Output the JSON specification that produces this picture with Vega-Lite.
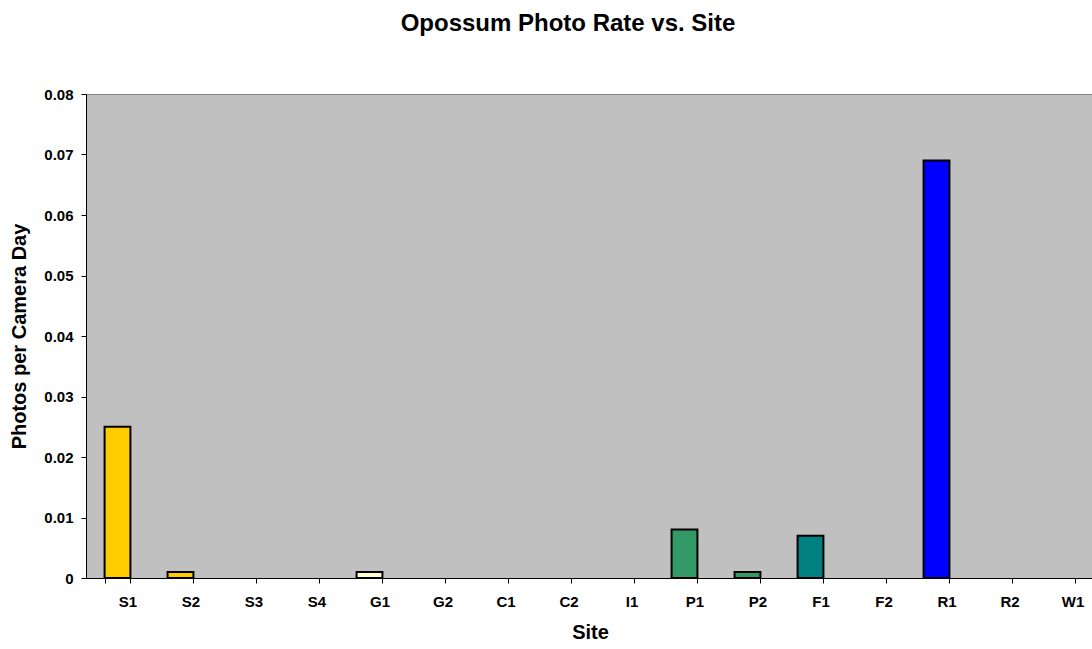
{
  "$schema": "https://vega.github.io/schema/vega-lite/v6.json",
  "width": 1008,
  "height": 484,
  "padding": {"left": 9, "top": 12, "right": 0, "bottom": 0},
  "background": "white",
  "title": {
    "text": "Opossum Photo Rate vs. Site",
    "font": "Liberation Sans",
    "fontSize": 24,
    "fontWeight": "bold",
    "color": "black",
    "anchor": "middle",
    "frame": "group",
    "dx": -22,
    "offset": 51
  },
  "config": {
    "view": {"fill": "#C0C0C0", "stroke": "#808080", "strokeWidth": 1},
    "axis": {
      "labelFont": "Liberation Sans",
      "labelFontSize": 15,
      "labelFontWeight": "bold",
      "labelColor": "black",
      "titleFont": "Liberation Sans",
      "titleFontSize": 20,
      "titleFontWeight": "bold",
      "titleColor": "black",
      "domainColor": "black",
      "tickColor": "black",
      "tickSize": 5,
      "grid": false
    }
  },
  "data": {
    "values": [
      {"site": "S1", "rate": 0.025},
      {"site": "S2", "rate": 0.001},
      {"site": "S3", "rate": 0},
      {"site": "S4", "rate": 0},
      {"site": "G1", "rate": 0.001},
      {"site": "G2", "rate": 0},
      {"site": "C1", "rate": 0},
      {"site": "C2", "rate": 0},
      {"site": "I1", "rate": 0},
      {"site": "P1", "rate": 0.008},
      {"site": "P2", "rate": 0.001},
      {"site": "F1", "rate": 0.007},
      {"site": "F2", "rate": 0},
      {"site": "R1", "rate": 0.069},
      {"site": "R2", "rate": 0},
      {"site": "W1", "rate": 0}
    ]
  },
  "mark": {"type": "bar", "stroke": "black", "strokeWidth": 2},
  "encoding": {
    "x": {
      "field": "site",
      "type": "nominal",
      "sort": null,
      "scale": {"paddingInner": 0.59, "paddingOuter": 0.295},
      "axis": {
        "title": "Site",
        "labelAngle": 0,
        "tickBand": "extent",
        "labelOffset": 10,
        "labelPadding": 11,
        "titlePadding": 13
      }
    },
    "y": {
      "field": "rate",
      "type": "quantitative",
      "scale": {"domain": [0, 0.08], "nice": false},
      "axis": {
        "title": "Photos per Camera Day",
        "values": [0, 0.01, 0.02, 0.03, 0.04, 0.05, 0.06, 0.07, 0.08],
        "format": "~g",
        "labelPadding": 8,
        "titlePadding": 14
      }
    },
    "strokeOpacity": {
      "condition": {"test": "datum.rate > 0", "value": 1},
      "value": 0
    },
    "color": {
      "field": "site",
      "type": "nominal",
      "legend": null,
      "scale": {
        "domain": ["S1","S2","S3","S4","G1","G2","C1","C2","I1","P1","P2","F1","F2","R1","R2","W1"],
        "range": ["#FFCC00","#FFCC00","#FFCC00","#FFCC00","#FFFFCC","#FFFFCC","#C0C0C0","#C0C0C0","#C0C0C0","#339966","#339966","#008080","#008080","#0000FF","#0000FF","#00CCFF"]
      }
    }
  }
}
